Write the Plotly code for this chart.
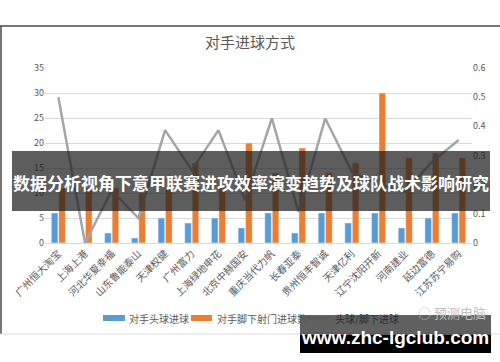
import plotly.graph_objects as go

teams = ["广州恒大淘宝", "上海上港", "河北华夏幸福", "山东鲁能泰山", "天津权健", "广州富力",
         "上海绿地申花", "北京中赫国安", "重庆当代力帆", "长春亚泰", "贵州恒丰智诚", "天津亿利",
         "辽宁沈阳开新", "河南建业", "延边富德", "江苏苏宁易购"]
header_goals = [6, 0, 2, 1, 5, 4, 5, 3, 6, 2, 6, 4, 6, 3, 5, 6]
foot_goals = [11, 11, 11, 10, 11, 16, 11, 20, 14, 19, 14, 16, 30, 17, 18, 17]
ratio = [0.50, 0.0, 0.18, 0.085, 0.387, 0.25, 0.387, 0.147, 0.427, 0.107, 0.427, 0.244, 0.20, 0.176, 0.278, 0.353]
series_names = ["对手头球进球", "对手脚下射门进球数", "头球/脚下进球"]
colors = ["#5B9BD5", "#ED7D31", "#A5A5A5"]

FONT = "Noto Sans CJK SC"
GREY = "#595959"

fig = go.Figure()
fig.add_trace(go.Bar(x=teams, y=header_goals, name=series_names[0], marker_color=colors[0]))
fig.add_trace(go.Bar(x=teams, y=foot_goals, name=series_names[1], marker_color=colors[1]))
fig.add_trace(go.Scatter(x=teams, y=ratio, name=series_names[2], mode="lines",
                         line=dict(color=colors[2], width=2.5), yaxis="y2"))

W, H = 500, 362
l, r, t, b = 45, 28, 68, 119
pw, ph = W - l - r, H - t - b

fig.update_layout(
    width=W, height=H,
    margin=dict(l=l, r=r, t=t, b=b),
    paper_bgcolor="white", plot_bgcolor="white",
    font=dict(family=FONT, color=GREY, size=9),
    barmode="group", bargap=0.44, bargroupgap=0.12,
    title=dict(text="对手进球方式", x=0.5, xanchor="center", y=1 - 43 / H, yanchor="middle",
               font=dict(size=15, color=GREY, family=FONT)),
    xaxis=dict(tickangle=-45, tickfont=dict(size=10, color=GREY), showgrid=False,
               showline=True, linecolor="#D9D9D9", ticks="", automargin=False),
    yaxis=dict(range=[0, 35], dtick=5, gridcolor="#D9D9D9", zeroline=False, showline=False,
               tickfont=dict(size=9, color=GREY), ticks="", ticklen=0, automargin=False),
    yaxis2=dict(range=[0, 0.6], dtick=0.1, overlaying="y", side="right", showgrid=False,
                zeroline=False, showline=False, tickfont=dict(size=9, color=GREY),
                automargin=False, tickformat="~g"),
    showlegend=False,
)

def px_x(x):
    return (x - l) / pw

def px_y(y):
    return 1 - (y - t) / ph

def px_rect(x0, y0, x1, y1, color, layer="above"):
    return dict(type="rect", xref="paper", yref="paper", layer=layer,
                x0=px_x(x0), x1=px_x(x1), y0=px_y(y0), y1=px_y(y1),
                fillcolor=color, line=dict(width=0))

def px_line(x0, y0, x1, y1, color, width):
    return dict(type="line", xref="paper", yref="paper", x0=px_x(x0), x1=px_x(x1),
                y0=px_y(y0), y1=px_y(y1), line=dict(color=color, width=width))

shapes = [
    px_line(0, 26, 500, 26, "#4a4a4a", 1.5),
    px_line(1, 26, 1, 334, "#4a4a4a", 1.5),
    px_line(0, 334, 500, 334, "#D9D9D9", 1),
    # overlays
    px_rect(12, 151, 490, 211, "rgba(30,30,30,0.72)"),
    px_rect(300, 315, 491, 335, "rgba(0,0,0,0.62)"),
    px_rect(300, 335, 491, 353, "rgba(0,0,0,1)"),
    # legend swatches
    px_rect(103, 315, 125, 321, colors[0]),
    px_rect(191, 315, 212, 321, colors[1]),
    px_line(307, 318, 330, 318, "#595959", 2.5),
]
fig.update_layout(shapes=shapes)

def px_ann(x, y, text, size, color, bold=False, family=FONT, anchor="center"):
    return dict(xref="paper", yref="paper", x=px_x(x), y=px_y(y),
                text=f"<b>{text}</b>" if bold else text, showarrow=False,
                xanchor=anchor, yanchor="middle", font=dict(size=size, color=color, family=family))

fig.update_layout(annotations=[
    px_ann(127, 318, series_names[0], 10, GREY, anchor="left"),
    px_ann(215, 318, series_names[1], 10, GREY, anchor="left"),
    px_ann(333, 318, series_names[2], 10, "#2e2e2e", anchor="left"),
    px_ann(452, 312, "◌ 预测电脑", 13, "#BFBFBF"),
    px_ann(251, 182, "数据分析视角下意甲联赛进攻效率演变趋势及球队战术影响研究", 17, "white", bold=True),
    px_ann(395, 337, "www.zhc-lgclub.com", 19, "white", bold=True, family="Liberation Sans"),
])

fig.write_html("out.html")
